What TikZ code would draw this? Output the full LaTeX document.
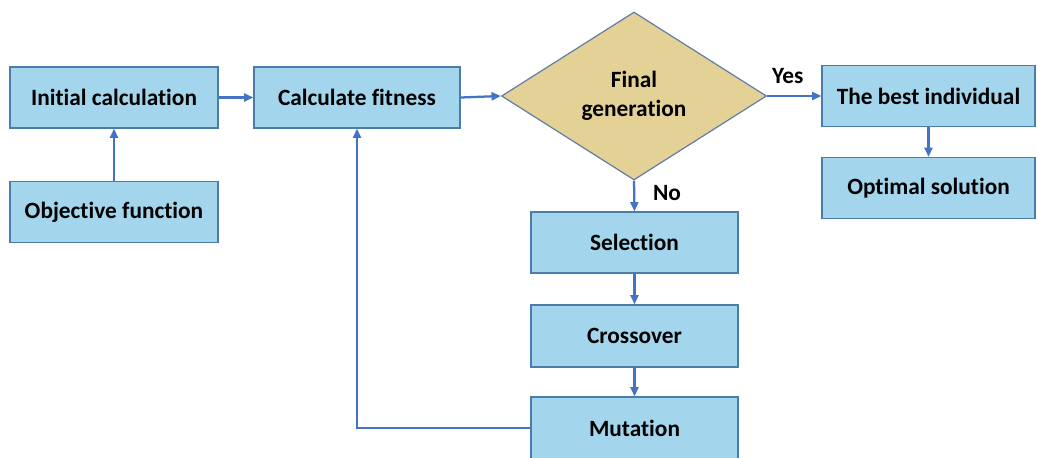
\documentclass[tikz,border=0pt]{standalone}
\usepackage{fontspec}
\setmainfont{Carlito}[Ligatures=NoCommon]
\usetikzlibrary{shapes.geometric,arrows.meta}
\newlength\pxu
\setlength\pxu{0.75pt}
\definecolor{boxfill}{RGB}{163,214,236}
\definecolor{boxline}{RGB}{75,125,170}
\definecolor{decfill}{RGB}{228,209,150}
\definecolor{decline}{RGB}{95,125,165}
\definecolor{flow}{RGB}{68,114,196}
\tikzset{
  stage/.style={draw=boxline,line width=0.9pt,fill=boxfill,minimum width=207\pxu,
    minimum height=61\pxu,inner sep=0pt,font=\bfseries\fontsize{17.5}{20}\selectfont},
  decision/.style={diamond,draw=decline,line width=0.9pt,fill=decfill,minimum width=265\pxu,
    minimum height=168\pxu,inner sep=0pt,align=center,font=\bfseries\fontsize{17.5}{22}\selectfont},
  flowarrow/.style={draw=flow,line width=1.7pt,-{Triangle[length=7pt,width=6pt]}},
  tag/.style={font=\bfseries\fontsize{17.5}{20}\selectfont}
}
\begin{document}
\begin{tikzpicture}[x=\pxu,y=-\pxu]
\clip (0,0) rectangle (1037,457);
\fill[white] (0,0) rectangle (1037,457);
% nodes
\node[stage,minimum width=208\pxu] (init) at (114,97.5) {Initial calculation};
\node[stage,minimum width=208\pxu] (obj) at (114,212) {Objective function};
\node[stage,minimum width=206\pxu] (fit) at (357,97.5) {Calculate fitness};
\node[decision] (gen) at (634,96) {Final\\generation};
\node[stage,minimum width=213\pxu] (best) at (928.5,96) {The best individual};
\node[stage,minimum width=213\pxu] (opt) at (928.5,188) {Optimal solution};
\node[stage] (sel) at (634.5,242.5) {Selection};
\node[stage,minimum height=62\pxu] (cross) at (634.5,336) {Crossover};
\node[stage,minimum height=62\pxu] (mut) at (634.5,428) {Mutation};
% arrows
\draw[flowarrow] (obj) -- (init);
\draw[flowarrow] (init) -- (fit);
\draw[flowarrow] (fit.east) -- (gen.west);
\draw[flowarrow] (gen.east) -- node[tag,above=5pt,pos=0.38] (yes) {Yes} (best.west);
\draw[flowarrow] (best) -- (opt);
\draw[flowarrow] (gen.south) -- node[tag,right=10pt,pos=0.4] (no) {No} (sel.north);
\draw[flowarrow] (sel) -- (cross);
\draw[flowarrow] (cross) -- (mut);
\draw[flowarrow] (mut.west) -| (fit.south);
\end{tikzpicture}
\end{document}
